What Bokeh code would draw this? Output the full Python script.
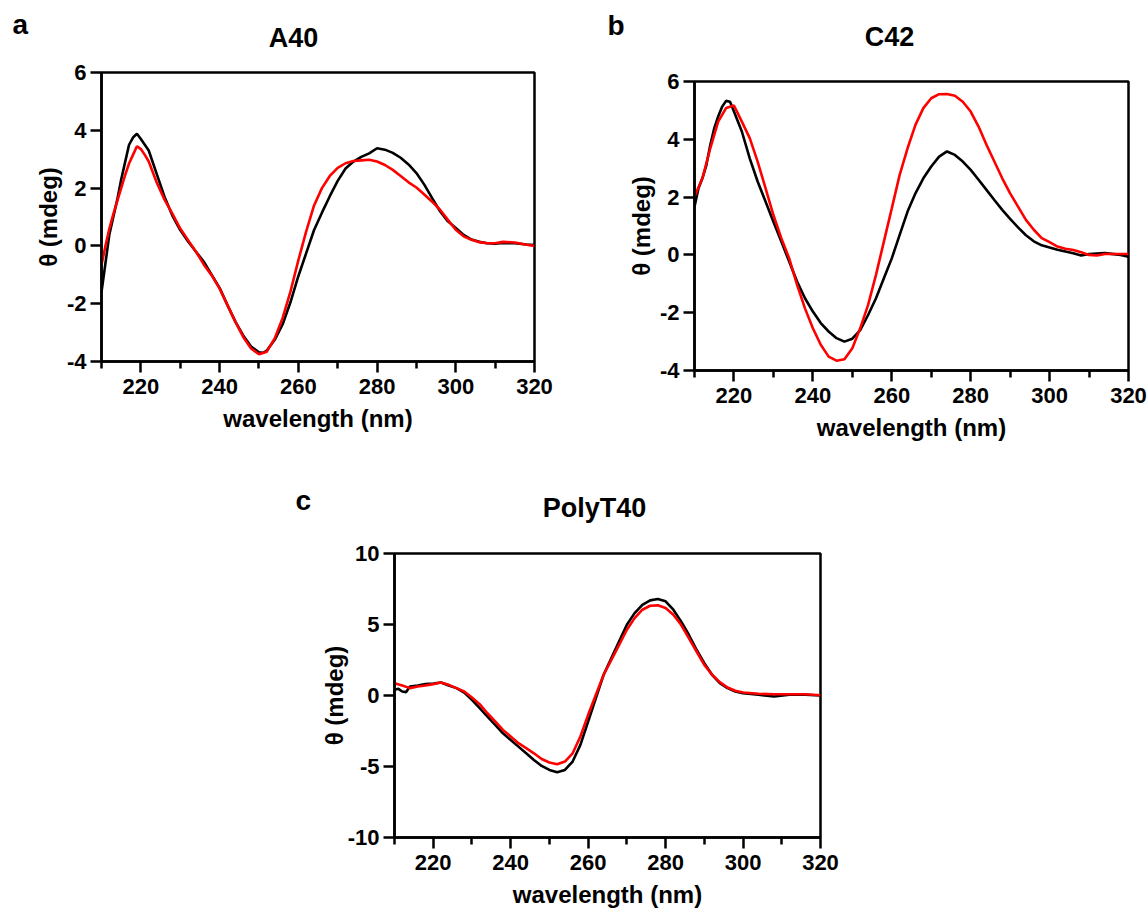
from bokeh.plotting import figure
from bokeh.layouts import column, row
from bokeh.models import FixedTicker, Range1d, Spacer
from bokeh.core.properties import value
from bokeh.embed import file_html
from bokeh.resources import INLINE

FONT = "Liberation Sans"

# ---------------- data ----------------
# Panel a: A40
a_black_x = [210, 211, 212, 213, 214, 215, 216, 217, 218, 219, 220, 221, 222, 224, 226, 228, 230, 232, 234, 236,
             238, 240, 242, 244, 246, 248, 250, 251, 252, 254, 256, 258, 260, 262, 264, 266, 268, 270, 272, 274,
             276, 278, 280, 282, 284, 286, 288, 290, 292, 294, 296, 298, 300, 302, 304, 306, 308, 310, 312, 315,
             318, 320]
a_black_y = [-1.6, -0.6, 0.4, 1.0, 1.6, 2.3, 2.9, 3.5, 3.75, 3.88, 3.7, 3.5, 3.3, 2.5, 1.7, 1.05, 0.55, 0.15, -0.2, -0.55,
             -1.0, -1.45, -2.05, -2.62, -3.1, -3.48, -3.68, -3.7, -3.62, -3.25, -2.72, -1.95, -1.05, -0.25, 0.55, 1.15,
             1.72, 2.25, 2.68, 2.92, 3.08, 3.2, 3.38, 3.33, 3.22, 3.05, 2.82, 2.52, 2.12, 1.65, 1.2, 0.85, 0.62, 0.38,
             0.22, 0.14, 0.09, 0.08, 0.1, 0.09, 0.05, 0.03]
a_red_x = [210, 211, 212, 213, 214, 215, 216, 217, 218, 219, 220, 221, 222, 224, 226, 228, 230, 232, 234, 236,
           238, 240, 242, 244, 246, 248, 250, 252, 254, 256, 258, 260, 262, 264, 266, 268, 270, 272, 274, 276,
           278, 280, 282, 284, 286, 288, 290, 292, 294, 296, 298, 300, 302, 304, 306, 308, 310, 312, 315, 318, 320]
a_red_y = [-0.66, 0.0, 0.6, 1.1, 1.55, 2.0, 2.45, 2.85, 3.15, 3.45, 3.35, 3.15, 2.92, 2.2, 1.6, 1.12, 0.6, 0.2, -0.2,
           -0.65, -1.02, -1.48, -2.05, -2.62, -3.15, -3.55, -3.75, -3.66, -3.2, -2.5, -1.58, -0.5, 0.5, 1.4, 2.0,
           2.42, 2.7, 2.86, 2.94, 2.96, 2.98, 2.92, 2.8, 2.63, 2.42, 2.2, 2.02, 1.78, 1.53, 1.25, 0.9, 0.56, 0.33,
           0.21, 0.13, 0.09, 0.09, 0.14, 0.12, 0.04, 0.0]

# Panel b: C42
b_black_x = [210, 211, 212, 213, 214, 215, 216, 217, 218, 219, 220, 222, 224, 226, 228, 230, 232, 234, 236, 238,
             240, 242, 244, 246, 248, 250, 252, 254, 256, 258, 260, 262, 264, 266, 268, 270, 272, 274, 276, 278,
             280, 282, 284, 286, 288, 290, 292, 294, 296, 298, 300, 302, 304, 306, 308, 310, 314, 318, 320]
b_black_y = [1.67, 2.3, 2.65, 3.1, 3.8, 4.38, 4.79, 5.13, 5.33, 5.3, 4.96, 4.27, 3.34, 2.54, 1.85, 1.15, 0.46, -0.23,
             -0.92, -1.5, -1.96, -2.36, -2.65, -2.88, -3.0, -2.9, -2.6, -2.08, -1.5, -0.81, -0.12, 0.69, 1.5, 2.13,
             2.65, 3.06, 3.4, 3.58, 3.46, 3.23, 2.94, 2.6, 2.25, 1.9, 1.56, 1.25, 0.95, 0.68, 0.47, 0.33, 0.26, 0.18,
             0.12, 0.06, -0.02, 0.03, 0.06, 0.0, -0.06]
b_red_x = [210, 212, 214, 216, 218, 220, 222, 224, 226, 228, 230, 232, 234, 236, 238, 240, 242, 244, 246, 248,
           250, 252, 254, 256, 258, 260, 262, 264, 266, 268, 270, 272, 274, 276, 278, 280, 282, 284, 286, 288,
           290, 292, 294, 296, 298, 300, 302, 304, 306, 308, 310, 312, 314, 318, 320]
b_red_y = [2.02, 2.65, 3.69, 4.61, 5.08, 5.17, 4.61, 4.04, 3.23, 2.31, 1.38, 0.58, -0.12, -1.04, -1.85, -2.54, -3.11,
           -3.52, -3.66, -3.61, -3.23, -2.54, -1.73, -0.69, 0.46, 1.61, 2.77, 3.69, 4.5, 5.08, 5.42, 5.56, 5.57,
           5.51, 5.3, 4.96, 4.44, 3.81, 3.23, 2.65, 2.13, 1.67, 1.21, 0.87, 0.58, 0.44, 0.29, 0.21, 0.17, 0.09,
           0.0, -0.02, 0.03, 0.03, 0.03]

# Panel c: PolyT40
c_black_x = [210, 211, 212, 213, 214, 216, 218, 220, 222, 224, 226, 228, 230, 232, 234, 236, 238, 240, 242, 244,
             246, 248, 250, 252, 254, 256, 258, 260, 262, 264, 266, 268, 270, 272, 274, 276, 278, 280, 282, 284,
             286, 288, 290, 292, 294, 296, 298, 300, 304, 308, 312, 316, 320]
c_black_y = [0.4, 0.47, 0.28, 0.24, 0.63, 0.7, 0.8, 0.85, 0.92, 0.7, 0.52, 0.21, -0.31, -0.89, -1.48, -2.07, -2.66,
             -3.13, -3.6, -4.07, -4.54, -4.96, -5.24, -5.4, -5.24, -4.65, -3.48, -1.83, -0.19, 1.46, 2.63, 3.81,
             4.98, 5.8, 6.39, 6.7, 6.79, 6.63, 6.04, 5.22, 4.28, 3.22, 2.28, 1.46, 0.87, 0.52, 0.28, 0.16, 0.05,
             -0.07, 0.05, 0.05, 0.0]
c_red_x = [210, 212, 214, 216, 218, 220, 222, 224, 226, 228, 230, 232, 234, 236, 238, 240, 242, 244, 246, 248,
           250, 252, 254, 256, 258, 260, 262, 264, 266, 268, 270, 272, 274, 276, 278, 280, 282, 284, 286, 288,
           290, 292, 294, 296, 298, 300, 304, 308, 312, 316, 320]
c_red_y = [0.87, 0.7, 0.52, 0.63, 0.7, 0.8, 0.92, 0.75, 0.52, 0.28, -0.14, -0.61, -1.25, -1.83, -2.42, -2.89, -3.36,
           -3.71, -4.07, -4.47, -4.72, -4.84, -4.65, -4.07, -2.89, -1.36, 0.05, 1.46, 2.51, 3.57, 4.63, 5.45, 6.04,
           6.32, 6.35, 6.16, 5.69, 4.98, 4.04, 3.1, 2.16, 1.46, 0.94, 0.56, 0.33, 0.21, 0.12, 0.09, 0.09, 0.09, 0.02]

x_major = [220, 240, 260, 280, 300, 320]
x_minor = [210, 230, 250, 270, 290, 310]
y_ticks_ab = [-4, -2, 0, 2, 4, 6]
y_ticks_c = [-10, -5, 0, 5, 10]

titles = ["A40", "C42", "PolyT40"]
letters = ["a", "b", "c"]
x_label = "wavelength (nm)"
y_label = "θ (mdeg)"

BLACK = "#000000"
RED = "#ff0000"


def make_panel(xs, ys, y_range, y_ticks, w, h, mbl, mbr, mbt, mbb, xlab_standoff=8, ylab_standoff=2):
    p = figure(output_backend="svg", toolbar_location=None, title=None,
               width=w, height=h,
               min_border_left=mbl, min_border_right=mbr, min_border_top=mbt, min_border_bottom=mbb,
               x_range=Range1d(210, 320), y_range=Range1d(*y_range),
               background_fill_color="white", border_fill_color="white")
    p.xgrid.visible = False
    p.ygrid.visible = False
    p.outline_line_color = "black"
    p.outline_line_width = 2.5
    p.outline_line_alpha = 1.0

    p.xaxis.ticker = FixedTicker(ticks=x_major, minor_ticks=x_minor)
    p.yaxis.ticker = FixedTicker(ticks=y_ticks, minor_ticks=[])
    p.yaxis.major_label_overrides = {t: str(t) for t in y_ticks}
    p.xaxis.axis_label = x_label
    p.yaxis.axis_label = y_label
    for ax in (p.xaxis, p.yaxis):
        ax.axis_line_width = 2.5
        ax.axis_line_color = "black"
        ax.major_tick_line_width = 2.5
        ax.major_tick_line_color = "black"
        ax.minor_tick_line_width = 2.5
        ax.minor_tick_line_color = "black"
        ax.major_tick_in = 0
        ax.major_tick_out = 11
        ax.minor_tick_in = 0
        ax.minor_tick_out = 7
        ax.major_label_text_font = FONT
        ax.major_label_text_font_size = "22px"
        ax.major_label_text_font_style = "bold"
        ax.major_label_text_color = "black"
        ax.axis_label_text_font = FONT
        ax.axis_label_text_font_size = "24px"
        ax.axis_label_text_font_style = "bold"
        ax.axis_label_text_color = "black"
    p.xaxis.major_label_standoff = 6
    p.yaxis.major_label_standoff = 4
    p.xaxis.axis_label_standoff = xlab_standoff
    p.yaxis.axis_label_standoff = ylab_standoff

    for x, y, col in zip(xs, ys, [BLACK, RED]):
        p.line(x, y, line_color=col, line_width=2.6)
    return p


def make_header(w, h, letter_xy, letter_txt, title_xy, title_txt):
    p = figure(output_backend="svg", toolbar_location=None, title=None, width=w, height=h,
               x_range=Range1d(0, w), y_range=Range1d(h, 0),
               min_border=0, min_border_left=0, min_border_right=0, min_border_top=0, min_border_bottom=0,
               x_axis_location=None, y_axis_location=None, outline_line_color=None,
               background_fill_color="white", border_fill_color="white")
    p.xgrid.visible = False
    p.ygrid.visible = False
    p.text(x=[xy[0] for xy in letter_xy], y=[xy[1] for xy in letter_xy], text=letter_txt,
           text_font=value(FONT), text_font_size="28px", text_font_style="bold", text_color="black",
           text_align="left", text_baseline="middle")
    p.text(x=[xy[0] for xy in title_xy], y=[xy[1] for xy in title_xy], text=title_txt,
           text_font=value(FONT), text_font_size="27px", text_font_style="bold", text_color="black",
           text_align="center", text_baseline="middle")
    return p


# page coordinates start at (0, 0)
header1 = make_header(1147, 58, [(12, 24), (607, 25)], letters[:2], [(293, 37), (889, 36)], titles[:2])
pa = make_panel([a_black_x, a_red_x], [a_black_y, a_red_y], (-4, 6), y_ticks_ab,
                600, 402, 101, 66, 14, 99)
pb = make_panel([b_black_x, b_red_x], [b_black_y, b_red_y], (-4, 6), y_ticks_ab,
                547, 393, 94, 19, 14, 90)
header2 = make_header(1147, 70, [(295, 40)], letters[2:], [(594, 47)], titles[2:])
pc = make_panel([c_black_x, c_red_x], [c_black_y, c_red_y], (-10, 10), y_ticks_c,
                850, 382, 394, 30, 23, 75, ylab_standoff=-3)

layout = column(
    row(header1),
    row(column(pa), column(Spacer(height=9, width=547), pb)),
    row(header2),
    row(pc),
)

open("out.html", "w").write(file_html(layout, INLINE))
